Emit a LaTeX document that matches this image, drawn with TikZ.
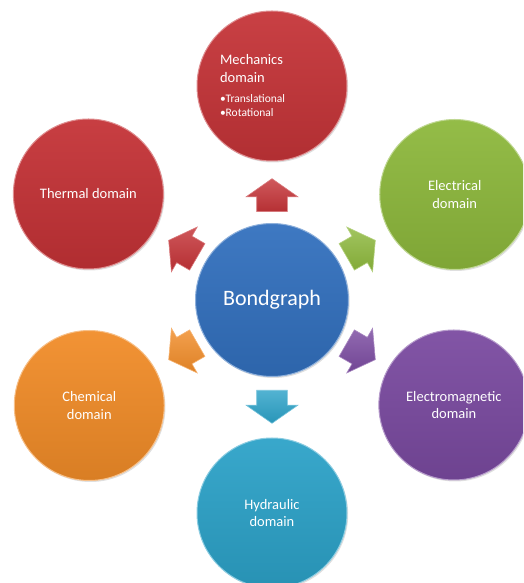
\documentclass[tikz,border=0pt]{standalone}
\usepackage{fontspec}
\setmainfont{Carlito}
\usetikzlibrary{calc,shapes.arrows,shadows}

\definecolor{mechred}{RGB}{197,52,56}
\definecolor{thermred}{RGB}{196,50,54}
\definecolor{elecgreen}{RGB}{141,184,60}
\definecolor{emagpurple}{RGB}{122,74,160}
\definecolor{hydrcyan}{RGB}{44,162,200}
\definecolor{chemorange}{RGB}{241,140,40}
\definecolor{bondblue}{RGB}{50,112,190}

\newcommand{\mechsub}{\fontsize{11.5}{14}\selectfont}

\begin{document}
\begin{tikzpicture}[
  x=1pt, y=1pt,
  font=\fontsize{14.5}{17.5}\selectfont,
  domcircle/.style={
    circle, minimum size=150pt, inner sep=2pt, align=center, text=white,
    top color=#1!94!white, bottom color=#1!90!black,
    draw=#1!55!white, line width=1pt,
    drop shadow={opacity=0.25, shadow xshift=1.2pt, shadow yshift=-1.5pt}
  },
  hub/.style={domcircle=#1, minimum size=153pt, font=\fontsize{22}{26}\selectfont},
  bondarrow/.style={
    single arrow, minimum height=33pt,
    inner xsep=0pt, inner ysep=15pt,
    single arrow head extend=10.5pt, single arrow tip angle=110,
    anchor=tail, line width=0.6pt,
    top color=#1!82!white, bottom color=#1!92!black, draw=#1!65!white
  }
]
  \useasboundingbox (0,0) rectangle (523,583);
  \clip (0,0) rectangle (523,583);

  % centre
  \node[hub=bondblue] (bond) at (272,283) {Bondgraph};

  % domains round the centre
  \node[domcircle=mechred, text width=104pt, align=left] (mech) at ($(bond)+(90:214)$)
    {Mechanics\\domain\\[2.5pt]{\mechsub\textbullet Translational}\\[-3pt]{\mechsub\textbullet Rotational}};
  \node[domcircle=thermred]   (therm) at ($(bond)+(150:212)$) {Thermal domain};
  \node[domcircle=elecgreen]  (elec)  at ($(bond)+(30:211)$)  {Electrical\\domain};
  \node[domcircle=emagpurple] (emag)  at ($(bond)+(-30:210)$) {Electromagnetic\\domain};
  \node[domcircle=hydrcyan]   (hydr)  at ($(bond)+(-90:213)$) {Hydraulic\\domain};
  \node[domcircle=chemorange] (chem)  at ($(bond)+(-150:211)$) {Chemical\\domain};

  % block arrows pointing out
  \node[bondarrow=mechred, rotate=90]      (tomech)  at ($(bond)+(90:88)$)   {};
  \node[bondarrow=thermred, rotate=150]    (totherm) at ($(bond)+(150:86)$)  {};
  \node[bondarrow=elecgreen, rotate=30]    (toelec)  at ($(bond)+(30:86)$)   {};
  \node[bondarrow=emagpurple, rotate=-30]  (toemag)  at ($(bond)+(-30:86)$)  {};
  \node[bondarrow=hydrcyan, rotate=-90]    (tohydr)  at ($(bond)+(-90:90)$)  {};
  \node[bondarrow=chemorange, rotate=-150] (tochem)  at ($(bond)+(-150:86)$) {};
\end{tikzpicture}
\end{document}
